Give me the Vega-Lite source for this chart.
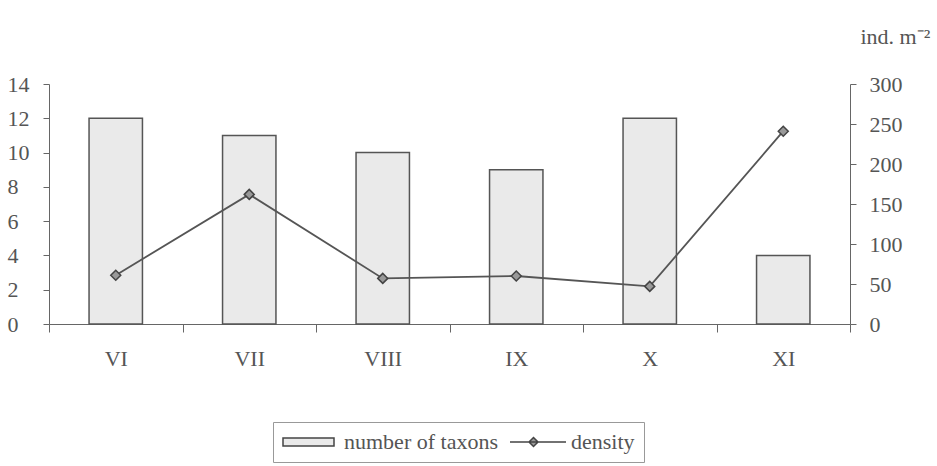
{
  "$schema": "https://vega.github.io/schema/vega-lite/v6.json",
  "width": 801,
  "height": 240,
  "autosize": {"type": "none"},
  "padding": {"left": 49, "top": 84, "right": 87, "bottom": 142},
  "background": "white",
  "config": {
    "view": {"stroke": null},
    "font": "Liberation Serif",
    "axis": {
      "labelFont": "Liberation Serif",
      "labelColor": "#555",
      "labelFontSize": 22,
      "domainColor": "#666",
      "tickColor": "#666",
      "grid": false,
      "titleFont": "Liberation Serif",
      "titleColor": "#555"
    },
    "legend": {
      "labelFont": "Liberation Serif",
      "labelFontSize": 22,
      "labelColor": "#555",
      "strokeColor": "#999",
      "fillColor": "white",
      "padding": 9,
      "columnPadding": 9,
      "labelOffset": 40,
      "symbolSize": 400,
      "symbolStrokeColor": "#444444",
      "symbolStrokeWidth": 1.5
    }
  },
  "data": {
    "values": [
      {"month": "VI", "taxa": 12, "density": 61},
      {"month": "VII", "taxa": 11, "density": 162},
      {"month": "VIII", "taxa": 10, "density": 57},
      {"month": "IX", "taxa": 9, "density": 60},
      {"month": "X", "taxa": 12, "density": 47},
      {"month": "XI", "taxa": 4, "density": 241}
    ]
  },
  "encoding": {
    "x": {
      "field": "month",
      "type": "ordinal",
      "sort": null,
      "scale": {"paddingInner": 0, "paddingOuter": 0},
      "axis": {
        "title": null,
        "labelAngle": 0,
        "tickBand": "extent",
        "tickSize": 8,
        "labelPadding": 16
      }
    }
  },
  "layer": [
    {
      "transform": [{"calculate": "'number of taxons'", "as": "series"}],
      "mark": {"type": "bar", "width": {"band": 0.4}, "stroke": "#555", "strokeWidth": 1.5},
      "encoding": {
        "y": {
          "field": "taxa",
          "type": "quantitative",
          "scale": {"domain": [0, 14]},
          "axis": {
            "orient": "left",
            "title": null,
            "values": [0, 2, 4, 6, 8, 10, 12, 14],
            "tickSize": 6,
            "labelAlign": "left",
            "labelPadding": 36
          }
        },
        "color": {
          "field": "series",
          "type": "nominal",
          "scale": {"domain": ["number of taxons", "density"], "range": ["#eaeaea", "#999999"]},
          "legend": {
            "title": null,
            "orient": "none",
            "direction": "horizontal",
            "legendX": 224,
            "legendY": 338,
            "labelFont": "Liberation Serif",
            "labelFontSize": 22,
            "symbolType": {"expr": "datum.value === 'density' ? 'M-1,0L4.6,0M1.35,-0.45L1.8,0L1.35,0.45L0.9,0Z' : 'M-1,-0.4L4.1,-0.4L4.1,0.4L-1,0.4Z'"},
            "symbolStrokeColor": "#444444",
            "symbolStrokeWidth": 1.5,
            "symbolOpacity": 1
          }
        }
      }
    },
    {
      "encoding": {
        "y": {
          "field": "density",
          "type": "quantitative",
          "scale": {"domain": [0, 300]},
          "axis": {
            "orient": "right",
            "values": [0, 50, 100, 150, 200, 250, 300],
            "labelOverlap": false,
            "tickSize": 6,
            "labelAlign": "left",
            "labelPadding": 13,
            "title": "ind. m⁻²",
            "titleAngle": 0,
            "titleAlign": "left",
            "titleBaseline": "middle",
            "titleFontSize": 22,
            "titleFontWeight": "normal",
            "titleX": 10,
            "titleY": -48
          }
        }
      },
      "layer": [
        {
          "mark": {"type": "line", "strokeWidth": 1.8, "color": "#555"},
          "encoding": {}
        },
        {
          "mark": {"type": "point", "shape": "diamond", "filled": true, "fill": "#999", "stroke": "#444", "strokeWidth": 1.5, "size": 100, "opacity": 1},
          "encoding": {}
        }
      ]
    }
  ],
  "resolve": {"scale": {"y": "independent"}, "axis": {"y": "independent"}}
}
